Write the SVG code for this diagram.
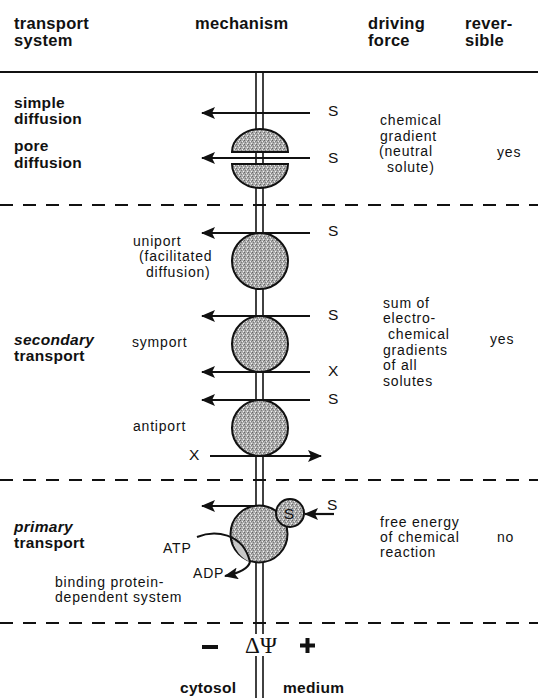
<svg xmlns="http://www.w3.org/2000/svg" width="538" height="698" viewBox="0 0 538 698">
  <style>
    .hd { font-family: "Liberation Sans", Arial, sans-serif; font-weight: bold; font-size: 16.5px; letter-spacing: 0.3px; fill: #111; }
    .lb { font-family: "Liberation Sans", Arial, sans-serif; font-weight: bold; font-size: 15.5px; letter-spacing: 0.3px; fill: #111; }
    .it { font-style: italic; }
    .tx { font-family: "Liberation Sans", Arial, sans-serif; font-size: 14px; letter-spacing: 0.8px; fill: #111; }
    .sl { font-family: "Liberation Sans", Arial, sans-serif; font-size: 15.5px; fill: #111; }
    .rule { stroke: #111; stroke-width: 2; fill: none; }
    .dash { stroke: #111; stroke-width: 2; stroke-dasharray: 13 10; fill: none; }
    .mem { stroke: #111; stroke-width: 1.6; fill: none; }
    .prot { fill: url(#grain); stroke: #111; stroke-width: 2; }
    .arr { stroke: #111; stroke-width: 2.2; fill: none; marker-end: url(#ah); }
  </style>
  <defs>
    <pattern id="grain" width="4" height="4" patternUnits="userSpaceOnUse">
      <rect width="4" height="4" fill="#acacac"/>
      <rect x="0" y="0" width="1" height="1" fill="#666"/>
      <rect x="2" y="1" width="1" height="1" fill="#ececec"/>
      <rect x="1" y="2" width="1" height="1" fill="#7a7a7a"/>
      <rect x="3" y="3" width="1" height="1" fill="#f2f2f2"/>
      <rect x="3" y="1" width="1" height="1" fill="#858585"/>
    </pattern>
    <marker id="ah" markerWidth="14" markerHeight="12" refX="13" refY="6" orient="auto" markerUnits="userSpaceOnUse">
      <path d="M0,0 L14,6 L0,12 L3,6 z" fill="#111"/>
    </marker>
  </defs>
  <rect width="538" height="698" fill="#fff"/>

  <!-- column headings -->
  <g id="header">
    <text class="hd" x="14" y="29">transport</text>
    <text class="hd" x="14" y="46">system</text>
    <text class="hd" x="195" y="29">mechanism</text>
    <text class="hd" x="368" y="29">driving</text>
    <text class="hd" x="368" y="46">force</text>
    <text class="hd" x="465" y="29">rever-</text>
    <text class="hd" x="465" y="46">sible</text>
  </g>

  <!-- separators -->
  <g id="separators">
    <line class="rule" x1="0" y1="72" x2="538" y2="72"/>
    <line class="dash" x1="0" y1="205" x2="538" y2="205"/>
    <line class="dash" x1="0" y1="480" x2="538" y2="480"/>
    <line class="dash" x1="0" y1="623" x2="538" y2="623"/>
  </g>

  <!-- membrane (two lines) -->
  <g id="membrane">
    <line class="mem" x1="256" y1="72" x2="256" y2="634"/>
    <line class="mem" x1="263" y1="72" x2="263" y2="634"/>
    <line class="mem" x1="256" y1="656" x2="256" y2="698"/>
    <line class="mem" x1="263" y1="656" x2="263" y2="698"/>
  </g>

  <!-- diffusion -->
  <g id="diffusion">
    <text class="lb" x="14" y="108">simple</text>
    <text class="lb" x="14" y="124">diffusion</text>
    <text class="lb" x="14" y="151">pore</text>
    <text class="lb" x="14" y="168">diffusion</text>
    <path class="prot" d="M232,152 A28,23 0 0 1 288,152 Z"/>
    <path class="prot" d="M232,164 A28,24 0 0 0 288,164 Z"/>
    <text class="sl" x="328" y="116">S</text>
    <text class="sl" x="328" y="163">S</text>
    <text class="tx" x="380" y="125">chemical</text>
    <text class="tx" x="380" y="141">gradient</text>
    <text class="tx" x="379" y="156">(neutral</text>
    <text class="tx" x="387" y="172">solute)</text>
    <text class="tx" x="497" y="157">yes</text>
  </g>

  <!-- uniport -->
  <g id="uniport">
    <circle class="prot" cx="260" cy="261" r="28"/>
    <text class="tx" x="133" y="246">uniport</text>
    <text class="tx" x="139" y="261">(facilitated</text>
    <text class="tx" x="146" y="277">diffusion)</text>
    <text class="sl" x="328" y="236">S</text>
  </g>

  <!-- symport -->
  <g id="symport">
    <circle class="prot" cx="260" cy="344" r="28"/>
    <text class="tx" x="132" y="347">symport</text>
    <text class="sl" x="328" y="320">S</text>
    <text class="sl" x="328" y="376">X</text>
  </g>

  <!-- antiport -->
  <g id="antiport">
    <circle class="prot" cx="260" cy="428" r="28"/>
    <text class="tx" x="133" y="431">antiport</text>
    <text class="sl" x="328" y="404">S</text>
    <text class="sl" x="189" y="460">X</text>
  </g>

  <!-- secondary transport labels -->
  <g id="secondary">
    <text class="lb it" x="14" y="345">secondary</text>
    <text class="lb" x="14" y="361">transport</text>
    <text class="tx" x="383" y="308">sum of</text>
    <text class="tx" x="383" y="323">electro-</text>
    <text class="tx" x="388" y="339">chemical</text>
    <text class="tx" x="383" y="355">gradients</text>
    <text class="tx" x="383" y="370">of all</text>
    <text class="tx" x="383" y="386">solutes</text>
    <text class="tx" x="490" y="344">yes</text>
  </g>

  <!-- primary transport -->
  <g id="primary">
    <circle class="prot" cx="259" cy="534" r="28.5"/>
    <path d="M233,540 C244,546 250,553 250,562 A28.5,28.5 0 0 1 233,540 Z" fill="#c8c8c8" stroke="none"/>
    <circle class="prot" cx="290" cy="513" r="14"/>
    <text class="sl" x="289" y="519" text-anchor="middle">S</text>
    <text class="sl" x="327" y="510">S</text>
    <text class="lb it" x="14" y="532">primary</text>
    <text class="lb" x="14" y="548">transport</text>
    <text class="tx" x="163" y="553">ATP</text>
    <text class="tx" x="193" y="578">ADP</text>
    <text class="tx" x="55" y="587">binding protein-</text>
    <text class="tx" x="55" y="602">dependent system</text>
    <text class="tx" x="380" y="527">free energy</text>
    <text class="tx" x="380" y="542">of chemical</text>
    <text class="tx" x="380" y="557">reaction</text>
    <text class="tx" x="497" y="542">no</text>
  </g>

  <!-- connectors: solute fluxes and ATP hydrolysis -->
  <g id="connectors">
    <line class="arr" x1="310" y1="113" x2="202" y2="113"/>
    <line class="arr" x1="310" y1="158" x2="202" y2="158"/>
    <line class="arr" x1="310" y1="233" x2="202" y2="233"/>
    <line class="arr" x1="310" y1="316" x2="202" y2="316"/>
    <line class="arr" x1="310" y1="372" x2="202" y2="372"/>
    <line class="arr" x1="310" y1="400" x2="202" y2="400"/>
    <line class="arr" x1="210" y1="456" x2="321" y2="456"/>
    <line class="arr" x1="255" y1="506" x2="202" y2="506"/>
    <line class="arr" x1="334" y1="514" x2="305" y2="514"/>
    <path class="rule" d="M197,537 C214,530 243,532 250,562"/>
    <path class="arr" d="M250,562 C248,569 240,573 225,576"/>
  </g>

  <!-- membrane potential and compartments -->
  <g id="potential">
    <rect x="202" y="645" width="16" height="4" fill="#111"/>
    <text x="261" y="653" text-anchor="middle" font-family="'Liberation Serif', 'Times New Roman', serif" font-size="23" fill="#111">ΔΨ</text>
    <rect x="300" y="643.5" width="15" height="4" fill="#111"/>
    <rect x="305.5" y="638" width="4" height="15" fill="#111"/>
    <text class="lb" x="180" y="693">cytosol</text>
    <text class="lb" x="283" y="693">medium</text>
  </g>
</svg>
